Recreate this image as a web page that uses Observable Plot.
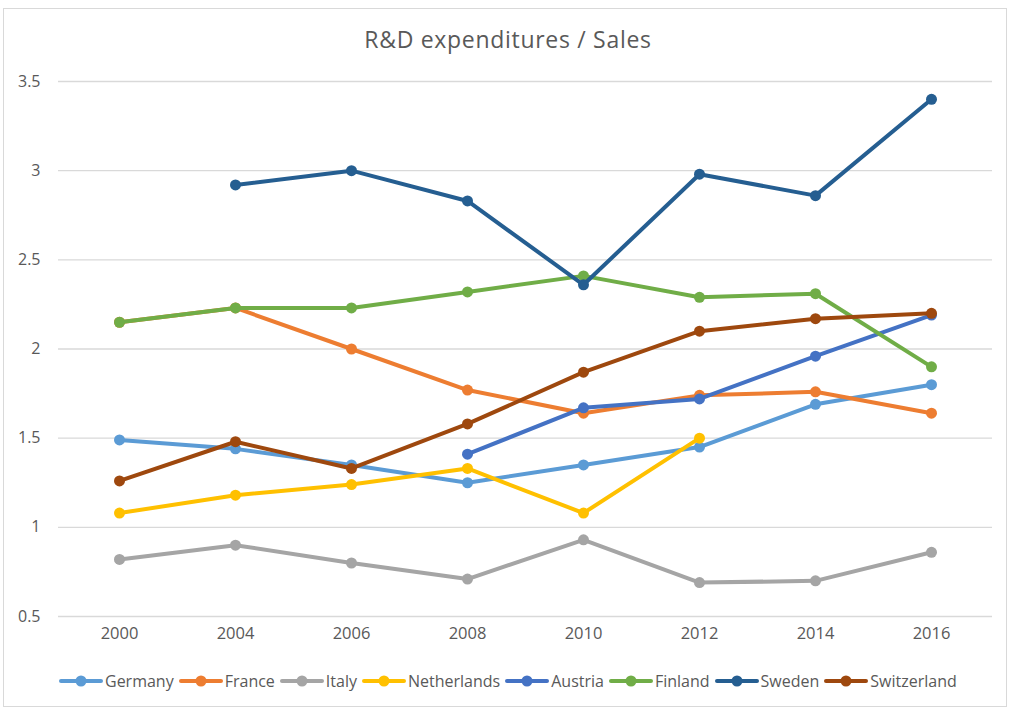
<!DOCTYPE html>
<html>
<head>
<meta charset="utf-8">
<script src="https://cdn.jsdelivr.net/npm/d3@7"></script>
<script src="https://cdn.jsdelivr.net/npm/@observablehq/plot@0.6"></script>
<style>
  body { margin: 0; background: #fff; font-family: "Open Sans", "Noto Sans", sans-serif; }
  #frame { position: absolute; left: 3px; top: 8px; width: 1004px; height: 699px; border: 1px solid #d9d9d9; box-sizing: border-box; }
  #title { position: absolute; left: 0; top: 23px; width: 1016px; text-align: center; font-size: 23px; letter-spacing: 0.7px; color: #595959; }
  #chart { position: absolute; left: 0; top: 65px; }
  #legend { position: absolute; left: 59px; top: 670px; display: flex; align-items: center; font-size: 16px; color: #595959; }
  .item { display: flex; align-items: center; margin-right: 5px; }
  .item svg { margin-right: 2px; }
</style>
</head>
<body>
<div id="frame"></div>
<div id="title">R&amp;D expenditures / Sales</div>
<div id="chart"></div>
<div id="legend"></div>
<script>
const years = ["2000", "2004", "2006", "2008", "2010", "2012", "2014", "2016"];
const countries = ["Germany", "France", "Italy", "Netherlands", "Austria", "Finland", "Sweden", "Switzerland"];
const colors = ["#5B9BD5", "#ED7D31", "#A5A5A5", "#FFC000", "#4472C4", "#70AD47", "#255E91", "#9E480E"];
const germany     = [1.49, 1.44, 1.35, 1.25, 1.35, 1.45, 1.69, 1.80];
const france      = [2.15, 2.23, 2.00, 1.77, 1.64, 1.74, 1.76, 1.64];
const italy       = [0.82, 0.90, 0.80, 0.71, 0.93, 0.69, 0.70, 0.86];
const netherlands = [1.08, 1.18, 1.24, 1.33, 1.08, 1.50, null, null];
const austria     = [null, null, null, 1.41, 1.67, 1.72, 1.96, 2.19];
const finland     = [2.15, 2.23, 2.23, 2.32, 2.41, 2.29, 2.31, 1.90];
const sweden      = [null, 2.92, 3.00, 2.83, 2.36, 2.98, 2.86, 3.40];
const switzerland = [1.26, 1.48, 1.33, 1.58, 1.87, 2.10, 2.17, 2.20];
const yTicks = [0.5, 1, 1.5, 2, 2.5, 3, 3.5];

const seriesValues = [germany, france, italy, netherlands, austria, finland, sweden, switzerland];
const series = countries.map((c, i) => ({
  name: c,
  color: colors[i],
  rows: years.map((y, j) => ({year: y, value: seriesValues[i][j]})).filter(d => d.value != null)
}));

const marks = [
  Plot.gridY(yTicks, {stroke: "#d9d9d9", strokeOpacity: 1, strokeWidth: 1.3}),
  Plot.axisY(yTicks, {tickSize: 0, tickPadding: 18, fontSize: 16, fill: "#595959", label: null, tickFormat: d => String(d)}),
  Plot.axisX({tickSize: 0, tickPadding: 11, fontSize: 16.5, fill: "#595959", label: null})
];
for (const s of series) {
  marks.push(Plot.line(s.rows, {x: "year", y: "value", stroke: s.color, strokeWidth: 4}));
  marks.push(Plot.dot(s.rows, {x: "year", y: "value", fill: s.color, r: 5.5}));
}

const chart = Plot.plot({
  width: 1016,
  height: 590,
  marginLeft: 58,
  marginRight: 24,
  marginTop: 16,
  marginBottom: 39,
  style: {fontFamily: '"Open Sans", "Noto Sans", sans-serif', background: "transparent"},
  x: {type: "point", domain: years, padding: 0.5},
  y: {domain: [0.5, 3.5]},
  marks
});
document.getElementById("chart").appendChild(chart);

const legend = document.getElementById("legend");
for (const s of series) {
  const item = document.createElement("div");
  item.className = "item";
  item.innerHTML = `<svg width="44" height="14"><line x1="2" x2="42" y1="7" y2="7" stroke="${s.color}" stroke-width="4" stroke-linecap="round"/><circle cx="22" cy="7" r="5.5" fill="${s.color}"/></svg><span>${s.name}</span>`;
  legend.appendChild(item);
}
</script>
</body>
</html>
